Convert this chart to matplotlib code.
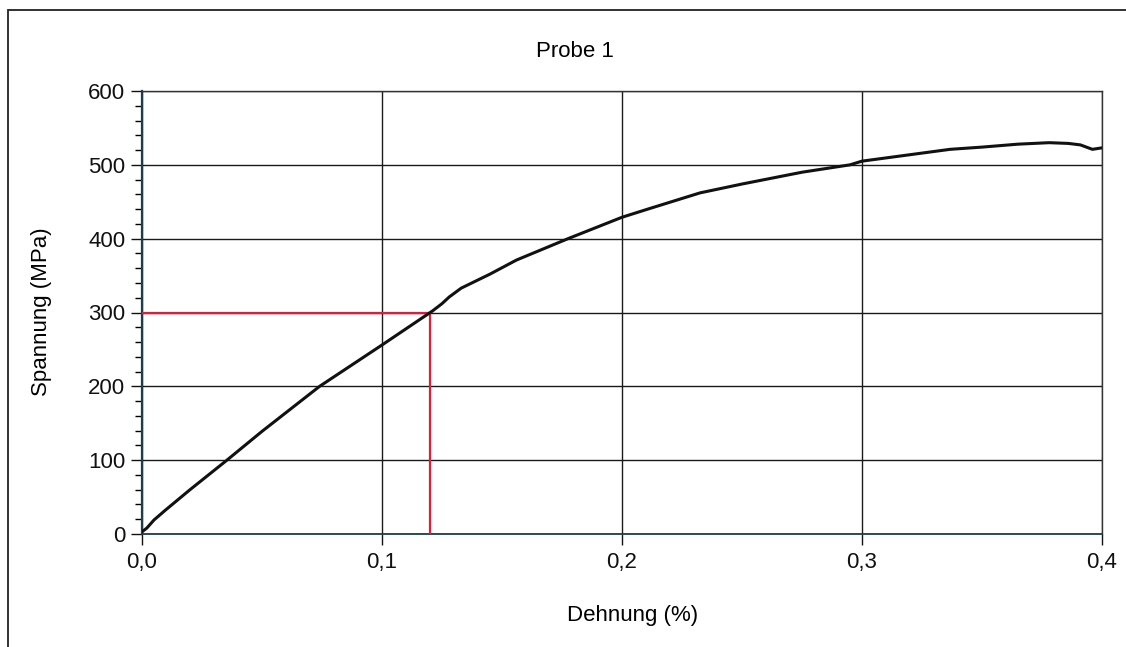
import matplotlib
matplotlib.use('Agg')
from matplotlib import pyplot as plt
from matplotlib.ticker import MultipleLocator, FuncFormatter
from matplotlib.patches import Rectangle

plt.rcParams['font.family'] = ['Liberation Sans', 'DejaVu Sans']

# Dehnung (%) und Spannung (MPa)
dehnung = [0, 0.002, 0.005, 0.01, 0.02, 0.035, 0.05, 0.074, 0.1, 0.121, 0.125,
           0.128, 0.133, 0.145, 0.156, 0.1775, 0.2, 0.2117, 0.2325, 0.25, 0.275,
           0.295, 0.3, 0.3367, 0.35, 0.365, 0.378, 0.386, 0.391, 0.396, 0.4]
spannung = [3, 8, 19, 33, 60, 99, 139, 200, 256, 302, 312,
            321, 333, 352, 371, 400, 429, 441, 462, 474, 490,
            500, 505, 521, 524, 528, 530, 529, 527, 521, 523]

# Ablesewert (rote Linien)
marker_x = 0.12
marker_y = 300

x_ticks = [0.0, 0.1, 0.2, 0.3, 0.4]
y_ticks = [0, 100, 200, 300, 400, 500, 600]

FS = 16

fig = plt.figure(figsize=(11.26, 6.47), dpi=100)
ax = fig.add_axes([142/1126, 113/647, 960/1126, 443/647])

ax.set_xlim(0, 0.4)
ax.set_ylim(0, 600)
ax.set_xticks(x_ticks)
ax.set_yticks(y_ticks)
ax.yaxis.set_minor_locator(MultipleLocator(20))
ax.xaxis.set_major_formatter(FuncFormatter(lambda v, p: f'{v:.1f}'.replace('.', ',')))

ax.grid(True, which='major', color='#1a1a1a', linewidth=1.0)
ax.set_axisbelow(True)

ax.plot([0, marker_x], [marker_y, marker_y], color='#d4213d', linewidth=1.6, zorder=3)
ax.plot([marker_x, marker_x], [0, marker_y], color='#d4213d', linewidth=1.6, zorder=3)

ax.plot(dehnung, spannung, color='#111111', linewidth=2.2, zorder=4)

for s in ax.spines.values():
    s.set_color('#333333')
    s.set_linewidth(1.0)
ax.spines['left'].set_color('#1d3d4a')
ax.spines['left'].set_linewidth(1.6)
ax.spines['bottom'].set_color('#1d3d4a')
ax.spines['bottom'].set_linewidth(1.3)

ax.tick_params(axis='both', which='major', direction='out', length=8, width=1.0,
               labelsize=FS, colors='#111111')
ax.tick_params(axis='y', which='minor', direction='out', length=5, width=1.0)
ax.tick_params(axis='x', pad=5)
ax.tick_params(axis='y', pad=4)

fig.text(575/1126, 1 - 57/647, 'Probe 1', ha='center', va='baseline', fontsize=FS)
fig.text(633/1126, 1 - 621/647, 'Dehnung (%)', ha='center', va='baseline', fontsize=FS)
fig.text(42/1126, 1 - 312/647, 'Spannung (MPa)', ha='center', va='center',
         rotation=90, fontsize=FS)

# Rahmen um das ganze Diagramm
fig.patches.append(Rectangle((8/1126, -0.05), 1.2, 1 - 10/647 + 0.05,
                             transform=fig.transFigure, fill=False,
                             edgecolor='#222222', linewidth=1.3))

fig.savefig('out.png', dpi=100)
